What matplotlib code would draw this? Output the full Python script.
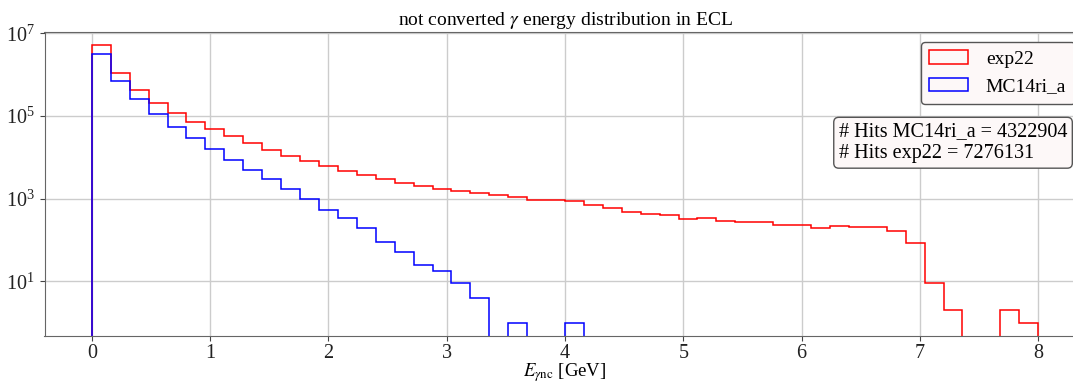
import numpy as np
import matplotlib
matplotlib.use("Agg")
import matplotlib.pyplot as plt

plt.rcParams['font.family'] = ['Liberation Serif', 'DejaVu Serif']
plt.rcParams['mathtext.fontset'] = 'stix'

# 50 bins of 0.16 GeV from 0 to 8 GeV
edges = np.linspace(0, 8, 51)

counts_exp22 = [5.1e6, 1.12e6, 4.25e5, 2.04e5, 1.17e5, 7.1e4, 4.8e4, 3.24e4, 2.19e4, 1.54e4,
                1.10e4, 8.3e3, 6.3e3, 4.8e3, 3.69e3, 3.05e3, 2.44e3, 2.07e3, 1.67e3, 1.55e3,
                1.34e3, 1.20e3, 1.10e3, 955, 908, 859, 700, 582, 473, 433,
                409, 327, 346, 293, 277, 277, 237, 237, 197, 224,
                212, 212, 166, 85, 9, 2, 0, 0, 2, 1]

counts_mc = [3.1e6, 7.1e5, 2.6e5, 1.11e5, 5.4e4, 2.96e4, 1.57e4, 8.8e3, 5.0e3, 3.05e3,
             1.74e3, 1.0e3, 541, 346, 197, 90, 52, 25, 18, 9,
             4, 0, 1, 0, 0, 1, 0, 0, 0, 0,
             0, 0, 0, 0, 0, 0, 0, 0, 0, 0,
             0, 0, 0, 0, 0, 0, 0, 0, 0, 0]

labels = ['exp22', 'MC14ri_a']
hits_text = '# Hits MC14ri_a = 4322904\n# Hits exp22 = 7276131'

fig = plt.figure(figsize=(10.73, 3.83), dpi=100)
ax = fig.add_axes([44.5 / 1073, 1 - 335.5 / 383, 1041 / 1073, 303.2 / 383])

centers = 0.5 * (edges[:-1] + edges[1:])
ax.hist(centers, bins=edges, weights=counts_exp22, histtype='step', color='red', lw=1.1, label=labels[0], log=True)
ax.hist(centers, bins=edges, weights=counts_mc, histtype='step', color='blue', lw=1.1, label=labels[1], log=True)

ax.set_yscale('log')
ax.set_ylim(0.49, 1.06e7)
ax.set_xlim(-0.4, 8.4)
ax.set_yticks([1e1, 1e3, 1e5, 1e7])
ax.yaxis.set_minor_locator(matplotlib.ticker.NullLocator())
ax.set_xticks(range(9))
ax.grid(True, color='#cccccc', lw=1.0)
ax.set_axisbelow(True)
for s in ax.spines.values():
    s.set_color('#666666')
ax.tick_params(labelsize=14.5, color='#444444', labelcolor='#222222')
ax.tick_params(axis='x', pad=2.5)

ax.set_title(r'not converted $\gamma$ energy distribution in ECL', fontsize=14, pad=5)
ax.set_xlabel(r'$E_{\gamma\mathrm{nc}}$ [GeV]', fontsize=13.5, labelpad=-1)

leg = ax.legend(loc='upper left', bbox_to_anchor=(0.8417, 0.969), borderaxespad=0,
                fontsize=14, fancybox=True, framealpha=1, handlelength=2.0,
                handletextpad=0.9, borderpad=0.45)
leg.get_frame().set_facecolor('#fdf8f8')
leg.get_frame().set_edgecolor('#555555')

ax.text(0.763, 0.703, hits_text, transform=ax.transAxes, ha='left', va='top', fontsize=14.5,
        linespacing=1.2,
        bbox=dict(boxstyle='round,pad=0.25', fc='#fdf8f8', ec='#555555'))

fig.savefig('out.png', dpi=100)
